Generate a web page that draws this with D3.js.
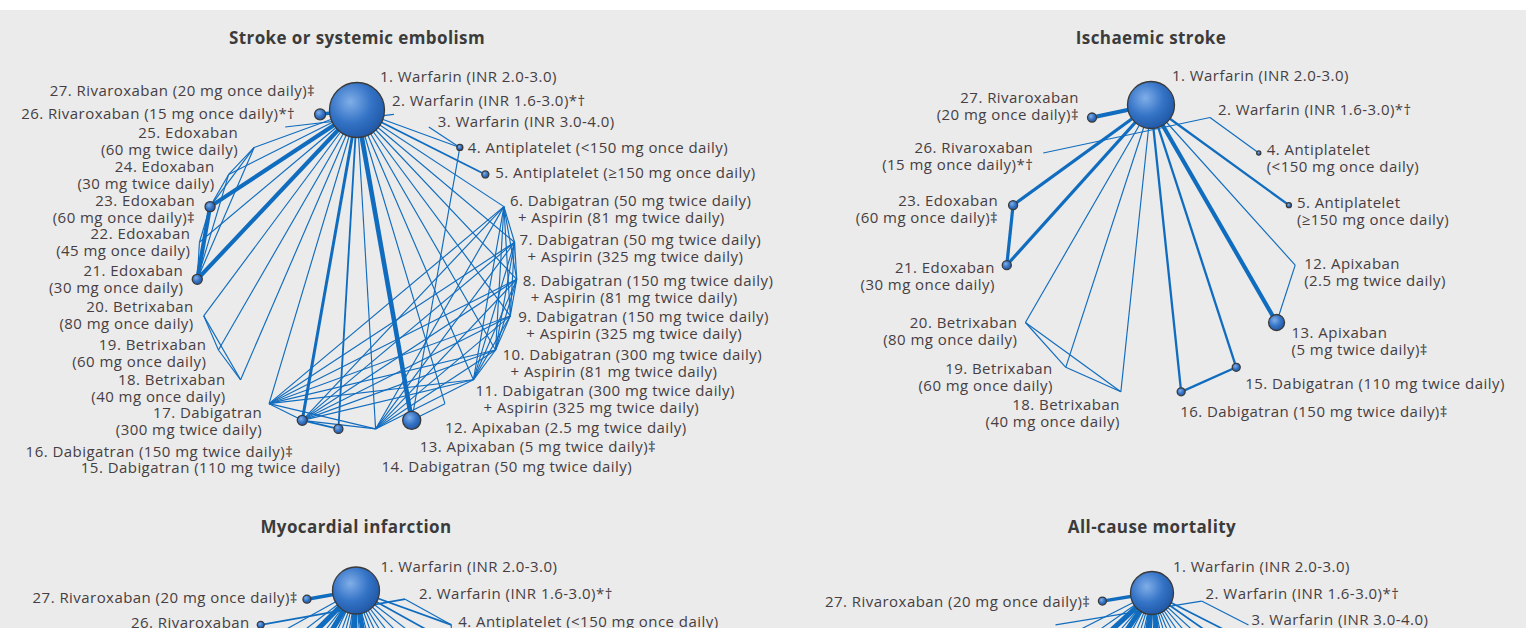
<!DOCTYPE html>
<html lang="en">
<head>
<meta charset="utf-8" />
<title>Network of oral anticoagulant comparisons</title>
<script src="https://d3js.org/d3.v7.min.js"></script>
<style>
  body { margin: 0; background: #fff; }
  .title { font-family: "Open Sans", Lato, sans-serif; font-weight: bold; font-size: 17px; letter-spacing: 0.4px; fill: #3b3b3b; }
  .label { font-family: "Open Sans", Lato, sans-serif; font-size: 15px; letter-spacing: 0.45px; fill: #463e42; }
  .edge { stroke: #106cbe; fill: none; }
  .node { stroke: #3a3a3a; stroke-width: 1.3; }
</style>
</head>
<body>
<svg width="1526" height="628"></svg>
<script>
// treatment names, index = treatment number - 1
const treatments = [
  "Warfarin (INR 2.0-3.0)",
  "Warfarin (INR 1.6-3.0)*†",
  "Warfarin (INR 3.0-4.0)",
  "Antiplatelet (<150 mg once daily)",
  "Antiplatelet (≥150 mg once daily)",
  "Dabigatran (50 mg twice daily) + Aspirin (81 mg twice daily)",
  "Dabigatran (50 mg twice daily) + Aspirin (325 mg twice daily)",
  "Dabigatran (150 mg twice daily) + Aspirin (81 mg twice daily)",
  "Dabigatran (150 mg twice daily) + Aspirin (325 mg twice daily)",
  "Dabigatran (300 mg twice daily) + Aspirin (81 mg twice daily)",
  "Dabigatran (300 mg twice daily) + Aspirin (325 mg twice daily)",
  "Apixaban (2.5 mg twice daily)",
  "Apixaban (5 mg twice daily)‡",
  "Dabigatran (50 mg twice daily)",
  "Dabigatran (110 mg twice daily)",
  "Dabigatran (150 mg twice daily)‡",
  "Dabigatran (300 mg twice daily)",
  "Betrixaban (40 mg once daily)",
  "Betrixaban (60 mg once daily)",
  "Betrixaban (80 mg once daily)",
  "Edoxaban (30 mg once daily)",
  "Edoxaban (45 mg once daily)",
  "Edoxaban (60 mg once daily)‡",
  "Edoxaban (30 mg twice daily)",
  "Edoxaban (60 mg twice daily)",
  "Rivaroxaban (15 mg once daily)*†",
  "Rivaroxaban (20 mg once daily)‡"
];

const titles = ["Stroke or systemic embolism", "Ischaemic stroke", "Myocardial infarction", "All-cause mortality"];

// treatments present in each network, in order round the circle
const nodesStroke = [1, 2, 3, 4, 5, 6, 7, 8, 9, 10, 11, 12, 13, 14, 15, 16, 17, 18, 19, 20, 21, 22, 23, 24, 25, 26, 27];
const nodesIschaemic = [1, 2, 4, 5, 12, 13, 15, 16, 18, 19, 20, 21, 23, 26, 27];
const nodesMI = [1, 2, 4, 5, 6, 7, 8, 9, 10, 11, 12, 13, 14, 15, 16, 17, 18, 19, 20, 21, 22, 23, 24, 25, 26, 27];
const nodesMortality = [1, 2, 3, 4, 5, 6, 7, 8, 9, 10, 11, 12, 13, 14, 15, 16, 17, 18, 19, 20, 21, 22, 23, 24, 25, 26, 27];

// node size (relative number of patients), read from the circle areas
const weightStroke = { 1: 36, 4: 0.43, 5: 0.58, 13: 3.9, 15: 0.97, 16: 1.2, 21: 1.2, 23: 1.2, 27: 1.45 };
const weightIschaemic = { 1: 26.3, 4: 0.2, 5: 0.3, 13: 3.05, 15: 0.76, 16: 0.76, 21: 0.97, 23: 0.97, 27: 0.97 };
const weightMI = { 1: 26.3, 26: 0.58, 27: 0.76, 13: 3, 15: 0.8, 16: 0.9, 21: 0.9, 23: 0.9 };
const weightMortality = { 1: 22, 27: 0.76, 13: 3, 15: 0.8, 16: 0.9, 21: 0.9, 23: 0.9 };

// trials: arms compared and line weight
const trialsStroke = [
  [[1, 27], 3], [[2, 26], 1], [[1, 13], 3], [[1, 12, 13], 1], [[4, 13], 1],
  [[1, 15, 16], 1.6], [[1, 6, 7, 8, 9, 10, 11, 14, 16, 17], 1], [[1, 18, 19, 20], 1],
  [[1, 21, 23], 1.6], [[1, 21, 23, 24, 25], 1], [[1, 21, 22, 23], 1],
  [[1, 4], 1], [[1, 5], 1.6], [[3, 4], 1]
];
const trialsIschaemic = [
  [[1, 27], 3.4], [[2, 26], 1], [[1, 13], 2.6], [[1, 12, 13], 1], [[1, 15, 16], 2],
  [[1, 18, 19, 20], 1], [[1, 21, 23], 2.8], [[1, 5], 2], [[2, 4], 1]
];
const trialsMI = [
  [[1, 27], 3], [[2, 26], 1.5], [[1, 4], 1.5], [[2, 4], 1], [[1, 5], 1.5],
  [[1, 13], 3], [[1, 12, 13], 1], [[4, 13], 1], [[1, 15, 16], 2.5],
  [[1, 6, 7, 8, 9, 10, 11, 14, 16, 17], 1], [[1, 18, 19, 20], 1],
  [[1, 21, 23], 2.5], [[1, 21, 23, 24, 25], 1], [[1, 21, 22, 23], 1]
];
const trialsMortality = [
  [[1, 27], 3], [[2, 26], 1], [[2, 3], 1], [[1, 4], 1.5], [[1, 5], 1.5],
  [[1, 13], 3], [[1, 12, 13], 1], [[4, 13], 1], [[1, 15, 16], 2.5],
  [[1, 6, 7, 8, 9, 10, 11, 14, 16, 17], 1], [[1, 18, 19, 20], 1],
  [[1, 21, 23], 2.5], [[1, 21, 23, 24, 25], 1], [[1, 21, 22, 23], 1]
];

// label placement relative to each node: dx, dy, anchor, wrapped
const labelsStroke = {
  1: [23, -33, "start"], 2: [-2, -14, "start"], 3: [9, -5, "start"], 4: [8, 0, "start"],
  5: [10, -2, "start"], 6: [6, -6, "start", 1], 7: [5, -2, "start", 1], 8: [6, 1, "start", 1],
  9: [8, 1, "start", 1], 10: [7, 5, "start", 1], 11: [2, 11, "start", 1], 12: [0, 24, "start"],
  13: [8, 26, "start"], 14: [6, 38, "start"], 15: [2, 39, "end"], 16: [-9, 31, "end"],
  17: [-7, 9, "end", 1], 18: [-15, 0, "end", 1], 19: [-12, -5, "end", 1], 20: [-10, -9, "end", 1],
  21: [-14, -9, "end", 1], 22: [-9, -8, "end", 1], 23: [-15, -6, "end", 1], 24: [-14, -8, "end", 1],
  25: [-16, -15, "end", 1], 26: [10, -13, "end"], 27: [-5, -24, "end"]
};
const labelsIschaemic = {
  1: [21, -29, "start"], 2: [8, -7.5, "start"], 4: [8, -3, "start", 1], 5: [8, -2, "start", 1],
  12: [9, -1, "start", 1], 13: [15, 10, "start", 1], 15: [9, 16, "start"], 16: [-1, 20, "start"],
  18: [-1, 13, "end", 1], 19: [-13, 1, "end", 1], 20: [-8, 0.5, "end", 1], 21: [-12, 3, "end", 1],
  23: [-15, -4, "end", 1], 26: [-10, -5, "end", 1], 27: [-13, -20, "end", 1]
};
const labelsMI = {
  1: [24.5, -23.5, "start"], 2: [14, -5, "start"], 4: [7, -3, "start"],
  27: [-9, -1, "end"], 26: [-11, -2, "end", 1]
};
const labelsMortality = {
  1: [21, -26, "start"], 2: [4, -7, "start"], 3: [3, -5, "start"], 27: [-12, 1, "end"]
};

const panels = [
  { title: titles[0], nodes: nodesStroke, weight: weightStroke, trials: trialsStroke, labels: labelsStroke, cx: 357, cy: 270, rx: 160, ry: 160, titleY: 38 },
  { title: titles[1], nodes: nodesIschaemic, weight: weightIschaemic, trials: trialsIschaemic, labels: labelsIschaemic, cx: 1151, cy: 250, rx: 145, ry: 145, titleY: 38 },
  { title: titles[2], nodes: nodesMI, weight: weightMI, trials: trialsMI, labels: labelsMI, cx: 356, cy: 890.5, rx: 205, ry: 300, titleY: 527 },
  { title: titles[3], nodes: nodesMortality, weight: weightMortality, trials: trialsMortality, labels: labelsMortality, cx: 1152, cy: 893, rx: 215, ry: 300, titleY: 527 }
];

const svg = d3.select("svg");
const lineHeight = 17;

const defs = svg.append("defs");
const grad = defs.append("radialGradient")
  .attr("id", "ball")
  .attr("cx", "38%").attr("cy", "35%").attr("r", "70%");
grad.append("stop").attr("offset", "0%").attr("stop-color", "#80aee8");
grad.append("stop").attr("offset", "55%").attr("stop-color", "#3473c6");
grad.append("stop").attr("offset", "100%").attr("stop-color", "#1f56a4");

svg.append("rect")
  .attr("x", 0).attr("y", 10)
  .attr("width", 1526).attr("height", 618)
  .attr("fill", "#ebebeb");

const rScale = d3.scaleSqrt().domain([0, 36]).range([0, 27.5]);
const wScale = d3.scaleLinear().domain([0, 1]).range([0, 1.15]);

function edgesFrom(trials) {
  const m = new Map();
  trials.forEach(([arms, w]) => {
    for (let i = 0; i < arms.length; i++) {
      for (let j = i + 1; j < arms.length; j++) {
        const k = arms[i] + "-" + arms[j];
        const prev = m.get(k);
        m.set(k, { a: arms[i], b: arms[j], w: (prev ? prev.w : 0) + w });
      }
    }
  });
  return Array.from(m.values()).sort((p, q) => p.w - q.w);
}

function labelLines(id, wrap) {
  const name = treatments[id - 1];
  if (!wrap) return [id + ". " + name];
  if (name.includes(" + ")) {
    const parts = name.split(" + ");
    return [id + ". " + parts[0], "+ " + parts[1]];
  }
  const k = name.indexOf(" (");
  return [id + ". " + name.slice(0, k), name.slice(k + 1)];
}

panels.forEach((p) => {
  const angle = d3.scaleLinear().domain([0, p.nodes.length]).range([0, 2 * Math.PI]);
  const pos = {};
  p.nodes.forEach((id, i) => {
    const a = angle(i);
    pos[id] = [p.cx + p.rx * Math.sin(a), p.cy - p.ry * Math.cos(a)];
  });

  const g = svg.append("g");

  g.append("text")
    .attr("class", "title")
    .attr("x", p.cx)
    .attr("y", p.titleY)
    .attr("dy", "0.35em")
    .attr("text-anchor", "middle")
    .text(p.title);

  g.append("g")
    .selectAll("line")
    .data(edgesFrom(p.trials))
    .join("line")
    .attr("class", "edge")
    .attr("x1", (d) => pos[d.a][0])
    .attr("y1", (d) => pos[d.a][1])
    .attr("x2", (d) => pos[d.b][0])
    .attr("y2", (d) => pos[d.b][1])
    .attr("stroke-width", (d) => wScale(d.w));

  const drawn = p.nodes.filter((id) => p.weight[id]);
  g.append("g")
    .selectAll("circle")
    .data(drawn)
    .join("circle")
    .attr("class", "node")
    .attr("cx", (id) => pos[id][0])
    .attr("cy", (id) => pos[id][1])
    .attr("r", (id) => rScale(p.weight[id]))
    .attr("fill", "url(#ball)");

  const labelIds = p.nodes.filter((id) => p.labels[id]);
  const lab = g.append("g")
    .selectAll("text")
    .data(labelIds)
    .join("text")
    .attr("class", "label")
    .attr("text-anchor", (id) => p.labels[id][2]);

  lab.each(function (id) {
    const [dx, dy, , wrap] = p.labels[id];
    const x = pos[id][0] + dx;
    const y = pos[id][1] + dy;
    const lines = labelLines(id, wrap);
    d3.select(this)
      .selectAll("tspan")
      .data(lines)
      .join("tspan")
      .attr("x", (t) => (t.startsWith("+") ? x + 8 : x))
      .attr("y", (t, i) => y + i * lineHeight)
      .attr("dy", "0.35em")
      .text((t) => t);
  });
});
</script>
</body>
</html>
